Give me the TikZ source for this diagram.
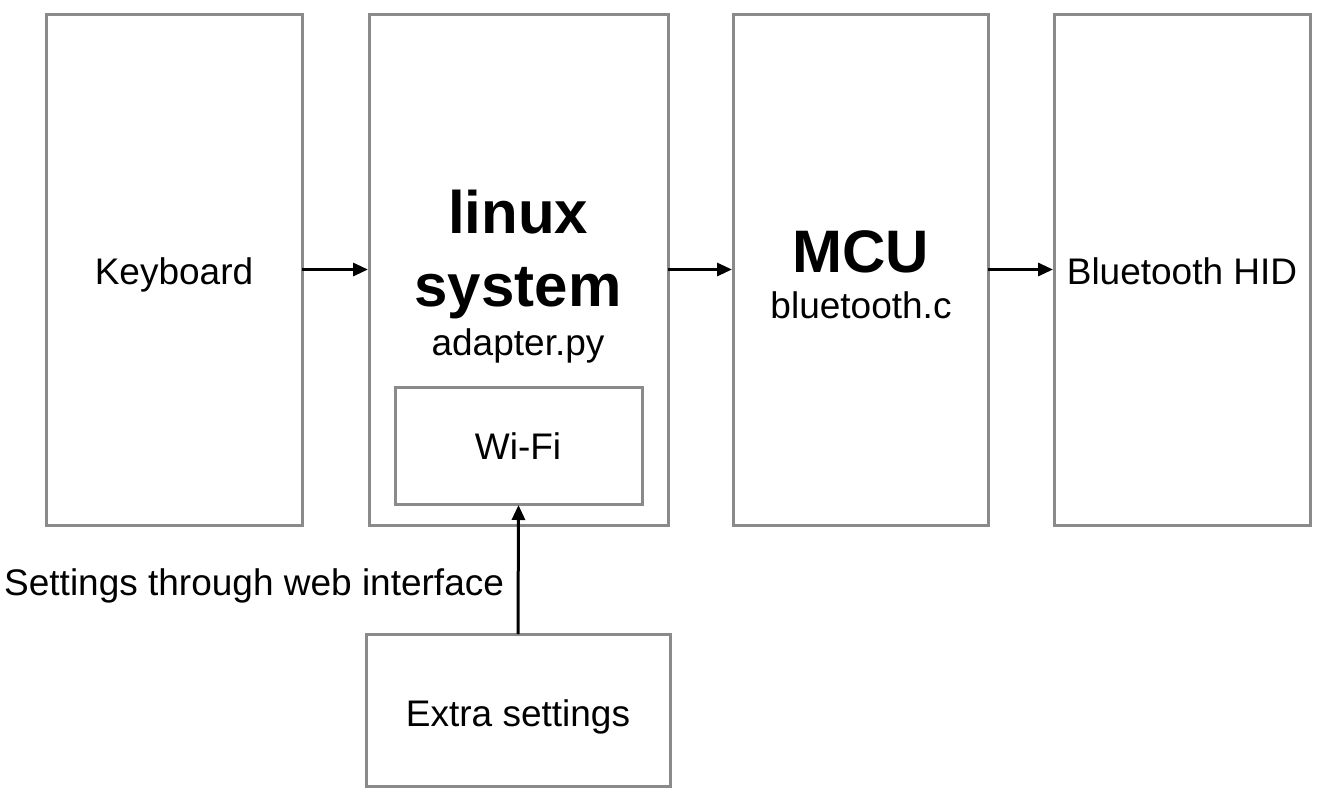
\documentclass[tikz,border=0pt]{standalone}
\usepackage{fontspec}
\setmainfont{Liberation Sans}
\usetikzlibrary{arrows.meta}
\definecolor{boxgray}{RGB}{138,138,138}
\tikzset{
  blk/.style={draw=boxgray, line width=3pt, inner sep=0pt, outer sep=0pt},
  arr/.style={draw=black, line width=3pt, -{Triangle[length=15pt,width=13pt]}, shorten >=1pt},
  txt/.style={anchor=base, inner sep=0pt, font=\fontsize{37}{40}\selectfont},
  big/.style={anchor=base, inner sep=0pt, font=\fontsize{60}{64}\selectfont\bfseries}
}
\begin{document}
\begin{tikzpicture}[x=1pt,y=-1pt]
\useasboundingbox (0,0) rectangle (1324,798);
% boxes
\node[blk, minimum width=256pt, minimum height=511pt] (kb) at (174,269.5) {};
\node[blk, minimum width=299pt, minimum height=511pt] (lin) at (518.5,269.5) {};
\node[blk, minimum width=255pt, minimum height=511pt] (mcu) at (860.5,269.5) {};
\node[blk, minimum width=256pt, minimum height=511pt] (bt) at (1182,269.5) {};
\node[blk, minimum width=247pt, minimum height=117pt] (wifi) at (518.5,445.5) {};
\node[blk, minimum width=304pt, minimum height=152pt] (extra) at (518,710) {};
% texts
\node[txt] (tkb) at (174,284) {Keyboard};
\node[big] (tlinux) at (518,233) {linux};
\node[big] (tsys) at (518,306) {system};
\node[txt] (tad) at (518,355) {adapter.py};
\node[txt] (twifi) at (518,459) {Wi-Fi};
\node[big] (tmcu) at (861,272) {MCU};
\node[txt] (tbc) at (861,318) {bluetooth.c};
\node[txt] (tbt) at (1182,284) {Bluetooth HID};
\node[txt, anchor=base west] (tset) at (4,595) {Settings through web interface};
\node[txt] (textra) at (518,726) {Extra settings};
% connectors
\draw[arr] (kb.east) -- (lin.west);
\draw[arr] (lin.east) -- (mcu.west);
\draw[arr] (mcu.east) -- (bt.west);
\draw[arr] (extra.north) -- (wifi.south);
\end{tikzpicture}
\end{document}
